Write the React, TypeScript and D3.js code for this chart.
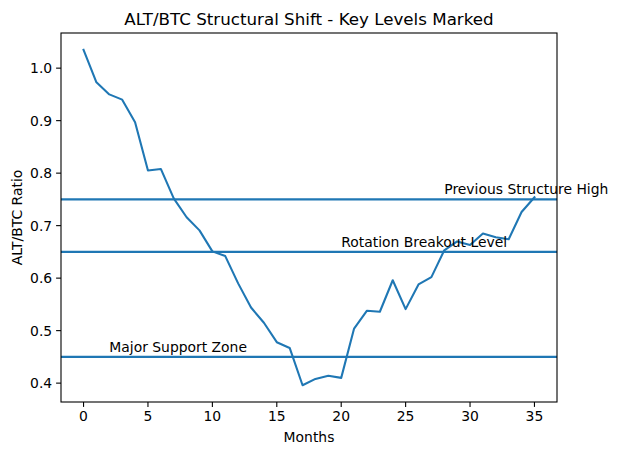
import React from "react";
import * as d3 from "d3";

const months: number[] = Array.from({ length: 36 }, (_, i) => i);
const ratio: number[] = [
  1.035, 0.973, 0.95, 0.94, 0.897, 0.805, 0.808, 0.752, 0.716, 0.691,
  0.651, 0.642, 0.59, 0.544, 0.515, 0.478, 0.467, 0.396, 0.408, 0.414,
  0.41, 0.504, 0.538, 0.536, 0.596, 0.541, 0.588, 0.602, 0.653, 0.67,
  0.663, 0.685, 0.678, 0.674, 0.726, 0.754,
];
const levelValues: number[] = [0.75, 0.65, 0.45];
const levelLabels: string[] = ["Previous Structure High", "Rotation Breakout Level", "Major Support Zone"];
const labelX: number[] = [28, 20, 2];
const labelY: number[] = [0.76, 0.66, 0.46];
const xTicks: number[] = [0, 5, 10, 15, 20, 25, 30, 35];
const yTicks: number[] = [0.4, 0.5, 0.6, 0.7, 0.8, 0.9, 1.0];

const W = 618, H = 455;
const L = 61, R = 557, T = 33, B = 402;
const COLOR = "#1f77b4";
const FONT = "DejaVu Sans, sans-serif";

export default function App() {
  const xMin = d3.min(months)!, xMax = d3.max(months)!;
  const yMin = d3.min(ratio)!, yMax = d3.max(ratio)!;
  const xm = (xMax - xMin) * 0.05, ym = (yMax - yMin) * 0.05;
  const x = d3.scaleLinear().domain([xMin - xm, xMax + xm]).range([L, R]);
  const y = d3.scaleLinear().domain([yMin - ym, yMax + ym]).range([B, T]);
  const line = d3.line<number>().x((_, i) => x(months[i])).y((d) => y(d));

  return (
    <svg width={W} height={H} style={{ position: "absolute", left: 0, top: 0, background: "#fff" }} fontFamily={FONT}>
      <rect x={0} y={0} width={W} height={H} fill="#fff" />
      <defs>
        <clipPath id="clip">
          <rect x={L} y={T} width={R - L} height={B - T} />
        </clipPath>
      </defs>
      <g clipPath="url(#clip)">
        <path d={line(ratio) || ""} fill="none" stroke={COLOR} strokeWidth={2.08} strokeLinejoin="round" strokeLinecap="square" />
        {levelValues.map((v, i) => (
          <line key={i} x1={L} x2={R} y1={y(v)} y2={y(v)} stroke={COLOR} strokeWidth={2.08} />
        ))}
      </g>
      {levelLabels.map((t, i) => (
        <text key={i} x={x(labelX[i])} y={y(labelY[i])} fontSize={13.9} fill="#000">{t}</text>
      ))}
      <rect x={L} y={T} width={R - L} height={B - T} fill="none" stroke="#000" strokeWidth={1.1} />
      {xTicks.map((t) => (
        <g key={t}>
          <line x1={x(t)} x2={x(t)} y1={B} y2={B + 4.9} stroke="#000" strokeWidth={1.1} />
          <text x={x(t)} y={B + 8.8} dy="0.76em" textAnchor="middle" fontSize={13.9}>{t}</text>
        </g>
      ))}
      {yTicks.map((t) => (
        <g key={t}>
          <line x1={L} x2={L - 4.9} y1={y(t)} y2={y(t)} stroke="#000" strokeWidth={1.1} />
          <text x={L - 8.8} y={y(t)} dy="0.36em" textAnchor="end" fontSize={13.9}>{t.toFixed(1)}</text>
        </g>
      ))}
      <text x={(L + R) / 2} y={442} textAnchor="middle" fontSize={13.9}>Months</text>
      <text transform={`translate(22, ${(T + B) / 2}) rotate(-90)`} textAnchor="middle" fontSize={13.9}>ALT/BTC Ratio</text>
      <text x={(L + R) / 2} y={T - 8.3} textAnchor="middle" fontSize={16.7}>ALT/BTC Structural Shift - Key Levels Marked</text>
    </svg>
  );
}
